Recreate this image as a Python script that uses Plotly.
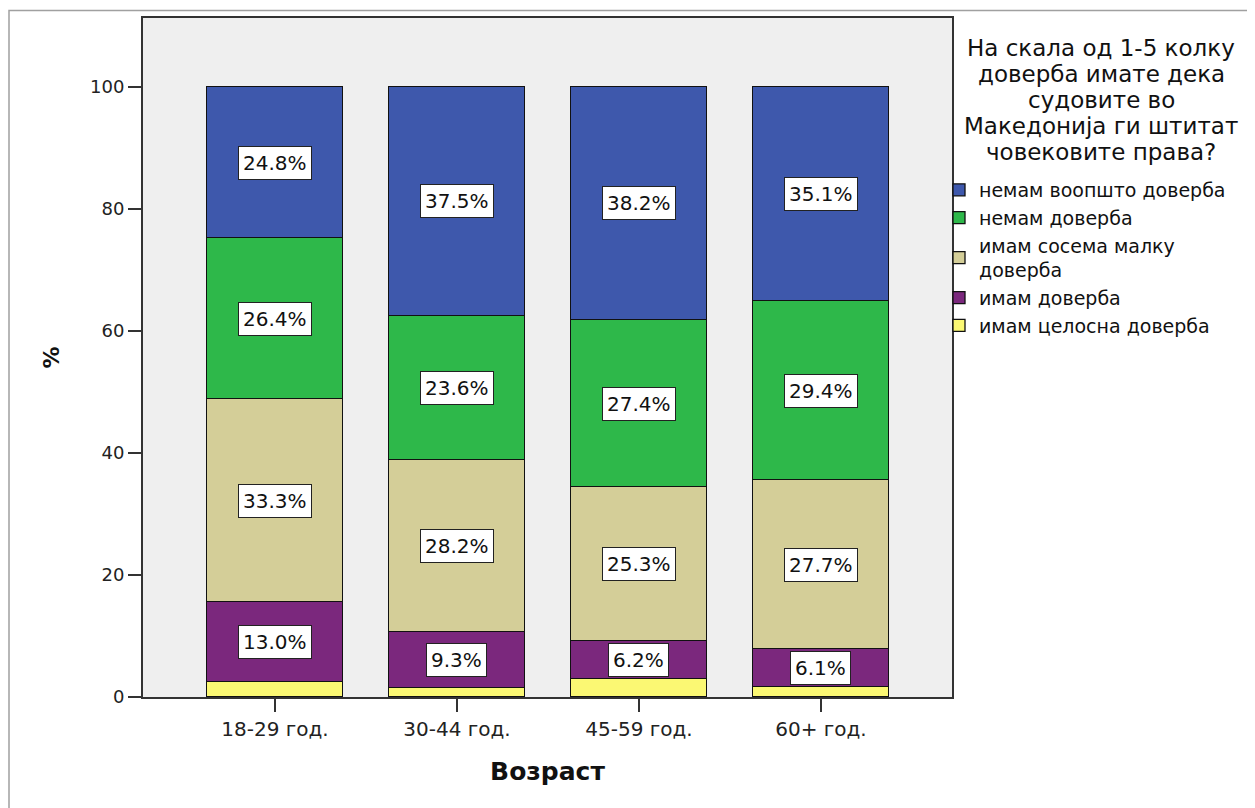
import plotly.graph_objects as go

categories = ["18-29 год.", "30-44 год.", "45-59 год.", "60+ год."]

# series listed bottom-of-stack first
series_names = [
    "имам целосна доверба",
    "имам доверба",
    "имам сосема малку<br>доверба",
    "немам доверба",
    "немам воопшто доверба",
]
s_full_trust = [2.5, 1.4, 2.9, 1.7]
s_trust = [13.0, 9.3, 6.2, 6.1]
s_little = [33.3, 28.2, 25.3, 27.7]
s_no_trust = [26.4, 23.6, 27.4, 29.4]
s_none = [24.8, 37.5, 38.2, 35.1]
series_values = [s_full_trust, s_trust, s_little, s_no_trust, s_none]
series_colors = ["#FBF873", "#7B287D", "#D4CE98", "#2EB84A", "#3E58AC"]
show_label = [False, True, True, True, True]

y_ticks = [0, 20, 40, 60, 80, 100]
legend_title_lines = [
    "На скала од 1-5 колку",
    "доверба имате дека",
    "судовите во",
    "Македонија ги штитат",
    "човековите права?",
]
x_title = "Возраст"
y_title = "%"

FONT = "DejaVu Sans"

# page body has an 8px margin; figure is sized/margined to compensate
OFF = 8
PLOT_L, PLOT_R, PLOT_T, PLOT_B = 143, 952, 18, 697
W, H = 1255 - OFF, 808 - OFF
PW, PH = PLOT_R - PLOT_L, PLOT_B - PLOT_T


def px_x(x):
    return (x - PLOT_L) / PW


def px_y(y):
    return (PLOT_B - y) / PH


fig = go.Figure()
for name, vals, col in zip(series_names, series_values, series_colors):
    fig.add_trace(go.Bar(
        x=categories, y=vals, name=name,
        marker=dict(color=col, line=dict(color="#111111", width=1.3)),
        width=0.747,
        hoverinfo="skip",
    ))

annotations = []
base = [0.0] * len(categories)
for vals, lab in zip(series_values, show_label):
    for i, v in enumerate(vals):
        if lab:
            annotations.append(dict(
                x=categories[i], y=base[i] + v / 2, xref="x", yref="y",
                text=f"{v:.1f}%", showarrow=False,
                font=dict(family=FONT, size=20, color="#111111"),
                bgcolor="white", bordercolor="#222222", borderwidth=1, borderpad=4,
            ))
        base[i] += v

title_centers_y = [48, 74, 100, 126, 152]
for line, yy in zip(legend_title_lines, title_centers_y):
    annotations.append(dict(
        x=px_x(1101), y=px_y(yy), xref="paper", yref="paper",
        xanchor="center", yanchor="middle", text=line, showarrow=False,
        font=dict(family=FONT, size=23, color="#111111"),
    ))

fig.update_layout(
    width=W, height=H,
    barmode="stack",
    bargap=0,
    paper_bgcolor="white",
    plot_bgcolor="#EFEFEF",
    margin=dict(l=PLOT_L - OFF, r=W + OFF - PLOT_R, t=PLOT_T - OFF, b=H + OFF - PLOT_B, autoexpand=False),
    font=dict(family=FONT, color="#222222"),
    annotations=annotations,
    showlegend=True,
    legend=dict(
        x=px_x(939), y=px_y(171), xanchor="left", yanchor="top",
        traceorder="reversed",
        bgcolor="rgba(0,0,0,0)",
        font=dict(family=FONT, size=19, color="#111111"),
        tracegroupgap=0,
        itemwidth=30,
    ),
    shapes=[dict(type="rect", xref="paper", yref="paper",
                 x0=px_x(9), x1=2.0, y0=-1.0, y1=px_y(10.5),
                 line=dict(color="#A0A0A0", width=1.5), fillcolor="rgba(0,0,0,0)",
                 layer="below")],
)

fig.update_xaxes(
    range=[-0.725, 3.72],
    showline=True, linecolor="#333333", linewidth=2, mirror=True,
    ticks="outside", ticklen=13, tickwidth=2, tickcolor="#333333",
    tickfont=dict(family=FONT, size=20, color="#222222"),
    showgrid=False,
    title=dict(text=f"<b>{x_title}</b>", font=dict(family=FONT, size=25, color="#111111"), standoff=22),
)
fig.update_yaxes(
    range=[0, 111.3],
    tickvals=y_ticks,
    showline=True, linecolor="#333333", linewidth=2, mirror=True,
    ticks="outside", ticklen=13, tickwidth=2, tickcolor="#333333",
    tickfont=dict(family=FONT, size=18, color="#222222"),
    showgrid=False, zeroline=False,
    title=dict(text=f"<b>{y_title}</b>", font=dict(family=FONT, size=22, color="#111111"), standoff=24),
)

fig.write_html("out.html")
